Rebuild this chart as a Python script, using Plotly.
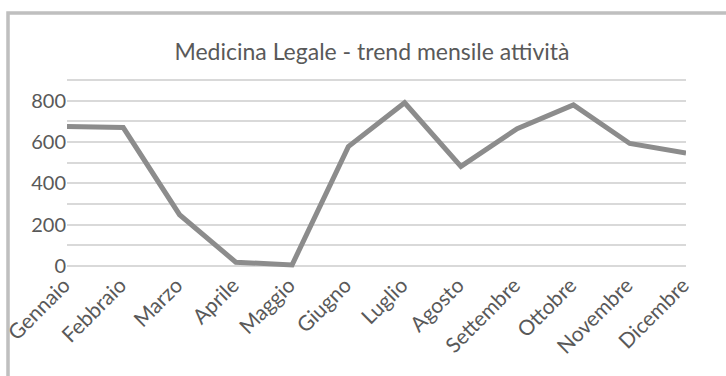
import plotly.graph_objects as go

months = ["Gennaio", "Febbraio", "Marzo", "Aprile", "Maggio", "Giugno",
          "Luglio", "Agosto", "Settembre", "Ottobre", "Novembre", "Dicembre"]
values = [675, 670, 248, 18, 5, 578, 790, 482, 665, 780, 593, 547]
grid_vals = [0, 100, 200, 300, 400, 500, 600, 700, 800, 900]
y_labels = ["0", "", "200", "", "400", "", "600", "", "800", ""]

W, H = 726, 376
L, R, T, B = 67, 40, 78, 108
pw, ph = W - L - R, H - T - B

def px_to_paper_x(px):
    return (px - L) / pw

def px_to_paper_y(py):
    return (H - B - py) / ph

fig = go.Figure()
fig.add_trace(go.Scatter(
    x=list(range(len(months))), y=values, mode="lines",
    line=dict(color="#8C8C8C", width=5), cliponaxis=False,
    hoverinfo="skip", showlegend=False,
))

font_family = "Lato, 'Open Sans', sans-serif"
fig.update_layout(
    width=W, height=H,
    margin=dict(l=L, r=R, t=T, b=B),
    paper_bgcolor="white", plot_bgcolor="white",
    title=dict(text="Medicina Legale - trend mensile attività",
               x=372 / W, xanchor="center", y=1 - 52 / H, yanchor="middle",
               font=dict(family=font_family, size=23, color="#595959")),
    xaxis=dict(
        tickmode="array", tickvals=list(range(len(months))), ticktext=months,
        range=[0, len(months) - 1], tickangle=-45, showgrid=False,
        zeroline=False, showline=False, ticks="", ticklabelshift=-3,
        automargin=False,
        tickfont=dict(family=font_family, size=21, color="#595959"),
    ),
    yaxis=dict(
        range=[-10, 910], tickmode="array", tickvals=grid_vals, ticktext=y_labels,
        showgrid=True, gridcolor="#D9D9D9", gridwidth=2,
        zeroline=False, showline=False, ticks="", automargin=False,
        tickfont=dict(family=font_family, size=20, color="#595959"),
    ),
)

fig.add_shape(type="rect", xref="paper", yref="paper",
              x0=px_to_paper_x(8), x1=px_to_paper_x(760),
              y0=px_to_paper_y(420), y1=px_to_paper_y(13),
              line=dict(color="#BFBFBF", width=3.5), fillcolor="rgba(0,0,0,0)",
              layer="below")

fig.write_html("out.html")
